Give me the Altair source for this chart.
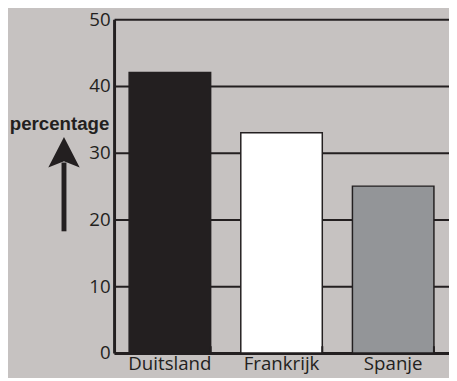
import altair as alt
import pandas as pd

landen = ["Duitsland", "Frankrijk", "Spanje"]
percentages = [42, 33, 25]
kleuren = ["#231f20", "#ffffff", "#939598"]
y_ticks = [0, 10, 20, 30, 40, 50]

DARK = "#231f20"
BG = "#c6c2c1"
FONT = "Open Sans"

df = pd.DataFrame({"land": landen, "pct": percentages})

x_enc = alt.X(
    "land:N",
    sort=landen,
    scale=alt.Scale(paddingInner=0.27, paddingOuter=0.135),
    axis=alt.Axis(
        title=None, ticks=False, labelAngle=0, labelFont=FONT, labelFontSize=19,
        labelColor=DARK, labelPadding=2, domainColor=DARK, domainWidth=3, grid=False,
    ),
)

bars = alt.Chart(df).mark_bar(stroke=DARK, strokeWidth=1.5).encode(
    x=x_enc,
    y=alt.Y(
        "pct:Q",
        scale=alt.Scale(domain=[0, 50], nice=False),
        axis=alt.Axis(
            values=y_ticks, ticks=False, grid=True, gridColor=DARK, gridWidth=2,
            gridOpacity=1, domainColor=DARK, domainWidth=3, labelFont=FONT,
            labelFontSize=19, labelColor=DARK, labelPadding=4,
            title="percentage", titleAngle=0, titleFont="Liberation Sans",
            titleFontSize=19, titleFontWeight="bold", titleColor=DARK,
            titleX=-56, titleY=112, titleAlign="center", titleBaseline="alphabetic",
        ),
    ),
    color=alt.Color("land:N", scale=alt.Scale(domain=landen, range=kleuren), legend=None),
)

ticks = alt.Chart(df).mark_rule(color=DARK, strokeWidth=2).encode(
    x=alt.X("land:N", sort=landen, bandPosition=1),
    y=alt.value(340),
    y2=alt.value(333),
)

shaft = alt.Chart(df.head(1)).mark_rule(color=DARK, strokeWidth=5).encode(
    x=alt.value(-51),
    y=alt.value(146),
    y2=alt.value(216),
)

head = alt.Chart(df.head(1)).mark_point(
    shape="M0,-1L1,0.94L0,0.55L-1,0.94Z", filled=True, color=DARK, opacity=1, size=1024,
).encode(
    x=alt.value(-51),
    y=alt.value(136),
)

chart = alt.layer(bars, ticks, shaft, head).properties(
    width=341,
    height=340,
    autosize=alt.AutoSizeParams(type="none"),
    padding={"left": 108, "top": 8, "right": 0, "bottom": 22},
    background=BG,
).configure_view(stroke=None)

chart.save("out.html", embed_options={"renderer": "svg", "actions": False})
